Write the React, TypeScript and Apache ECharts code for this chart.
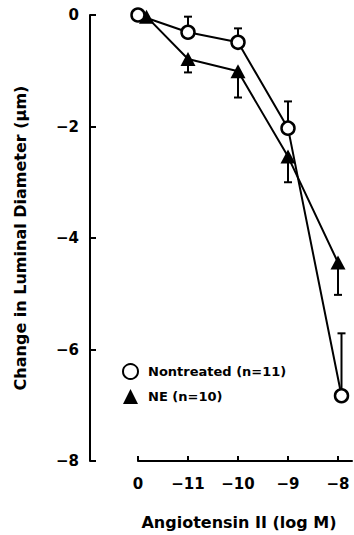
import React, { useEffect, useRef } from 'react';
import * as echarts from 'echarts';

// Dose categories (Angiotensin II, log M) and tick labels
const doseLabels = ['0', '−11', '−10', '−9', '−8'];
const doseTicks = [0, 1, 2, 3, 4];
const yTicks = [0, -2, -4, -6, -8];

// Nontreated (n=11): plotted position, mean, upper SE end
const ntX = [0, 1, 2, 3, 4.07];
const ntMean = [0, -0.31, -0.49, -2.03, -6.83];
const ntErrTop = [0, -0.03, -0.24, -1.55, -5.71];

// NE (n=10): plotted position, mean, lower SE end
const neX = [0.17, 1, 2, 3, 4];
const neMean = [-0.03, -0.79, -1.01, -2.54, -4.44];
const neErrBottom = [-0.03, -1.03, -1.48, -3.0, -5.02];

const FONT = 'DejaVu Sans';

export default function App() {
  const ref = useRef<HTMLDivElement>(null);
  useEffect(() => {
    if (!ref.current) return;
    const chart = echarts.init(ref.current, undefined, { renderer: 'svg' });

    const errItem = (params: any, api: any) => {
      const x = api.value(0);
      const from = api.value(1);
      const to = api.value(2);
      if (from === to) return null;
      const p1 = api.coord([x, from]);
      const p2 = api.coord([x, to]);
      return {
        type: 'group',
        children: [
          { type: 'line', shape: { x1: p1[0], y1: p1[1], x2: p2[0], y2: p2[1] }, style: { stroke: '#000', lineWidth: 2 } },
          { type: 'line', shape: { x1: p2[0] - 4, y1: p2[1], x2: p2[0] + 4, y2: p2[1] }, style: { stroke: '#000', lineWidth: 2 } },
        ],
      };
    };

    chart.setOption({
      animation: false,
      backgroundColor: '#fff',
      grid: { left: 138, right: 2, top: 15, bottom: 74 },
      legend: {
        orient: 'vertical',
        left: 117,
        top: 358,
        itemGap: 9,
        itemWidth: 15,
        itemHeight: 15,
        textStyle: { fontFamily: FONT, fontWeight: 'bold', fontSize: 13, color: '#000', padding: [0, 0, 0, 5] },
        data: [
          { name: 'Nontreated (n=11)', icon: 'circle' },
          { name: 'NE (n=10)', icon: 'triangle' },
        ],
      },
      xAxis: {
        type: 'value',
        min: 0,
        max: 4.28,
        name: 'Angiotensin II (log M)',
        nameLocation: 'middle',
        nameGap: 53,
        nameTextStyle: { fontFamily: FONT, fontWeight: 'bold', fontSize: 16, color: '#000', padding: [0, 12, 0, 0] },
        axisLine: { onZero: false, lineStyle: { color: '#000', width: 2 } },
        axisTick: { inside: true, length: 5, lineStyle: { color: '#000', width: 2 }, customValues: doseTicks },
        axisLabel: {
          customValues: doseTicks,
          margin: 15,
          fontFamily: FONT,
          fontWeight: 'bold',
          fontSize: 15,
          color: '#000',
          formatter: (v: number) => doseLabels[Math.round(v)] ?? '',
        },
        splitLine: { show: false },
      },
      yAxis: {
        type: 'value',
        min: -8,
        max: 0,
        interval: 2,
        offset: 48,
        name: 'Change in Luminal Diameter (μm)',
        nameLocation: 'middle',
        nameGap: 62,
        nameTextStyle: { fontFamily: FONT, fontWeight: 'bold', fontSize: 16, color: '#000' },
        axisLine: { show: true, onZero: false, lineStyle: { color: '#000', width: 2 } },
        axisTick: { show: true, inside: true, length: 6, lineStyle: { color: '#000', width: 2 }, customValues: yTicks },
        axisLabel: {
          margin: 11,
          fontFamily: FONT,
          fontWeight: 'bold',
          fontSize: 15,
          color: '#000',
          formatter: (v: number) => (v < 0 ? '−' + Math.abs(v) : String(v)),
        },
        splitLine: { show: false },
      },
      series: [
        {
          type: 'custom',
          name: 'ntErr',
          z: 1,
          renderItem: errItem,
          data: ntX.map((x, i) => [x, ntMean[i], ntErrTop[i]]),
          silent: true,
        },
        {
          type: 'custom',
          name: 'neErr',
          z: 1,
          renderItem: errItem,
          data: neX.map((x, i) => [x, neMean[i], neErrBottom[i]]),
          silent: true,
        },
        {
          type: 'line',
          name: 'Nontreated (n=11)',
          z: 3,
          data: ntX.map((x, i) => [x, ntMean[i]]),
          symbol: 'circle',
          symbolSize: 13,
          lineStyle: { color: '#000', width: 2 },
          itemStyle: { color: '#fff', borderColor: '#000', borderWidth: 2.5 },
        },
        {
          type: 'line',
          name: 'NE (n=10)',
          z: 2,
          data: neX.map((x, i) => [x, neMean[i]]),
          symbol: 'triangle',
          symbolSize: [15, 14],
          lineStyle: { color: '#000', width: 2 },
          itemStyle: { color: '#000', borderColor: '#000', borderWidth: 0 },
        },
      ],
    });
    return () => chart.dispose();
  }, []);
  return <div ref={ref} style={{ position: 'fixed', left: 0, top: 0, width: 354, height: 535 }} />;
}
